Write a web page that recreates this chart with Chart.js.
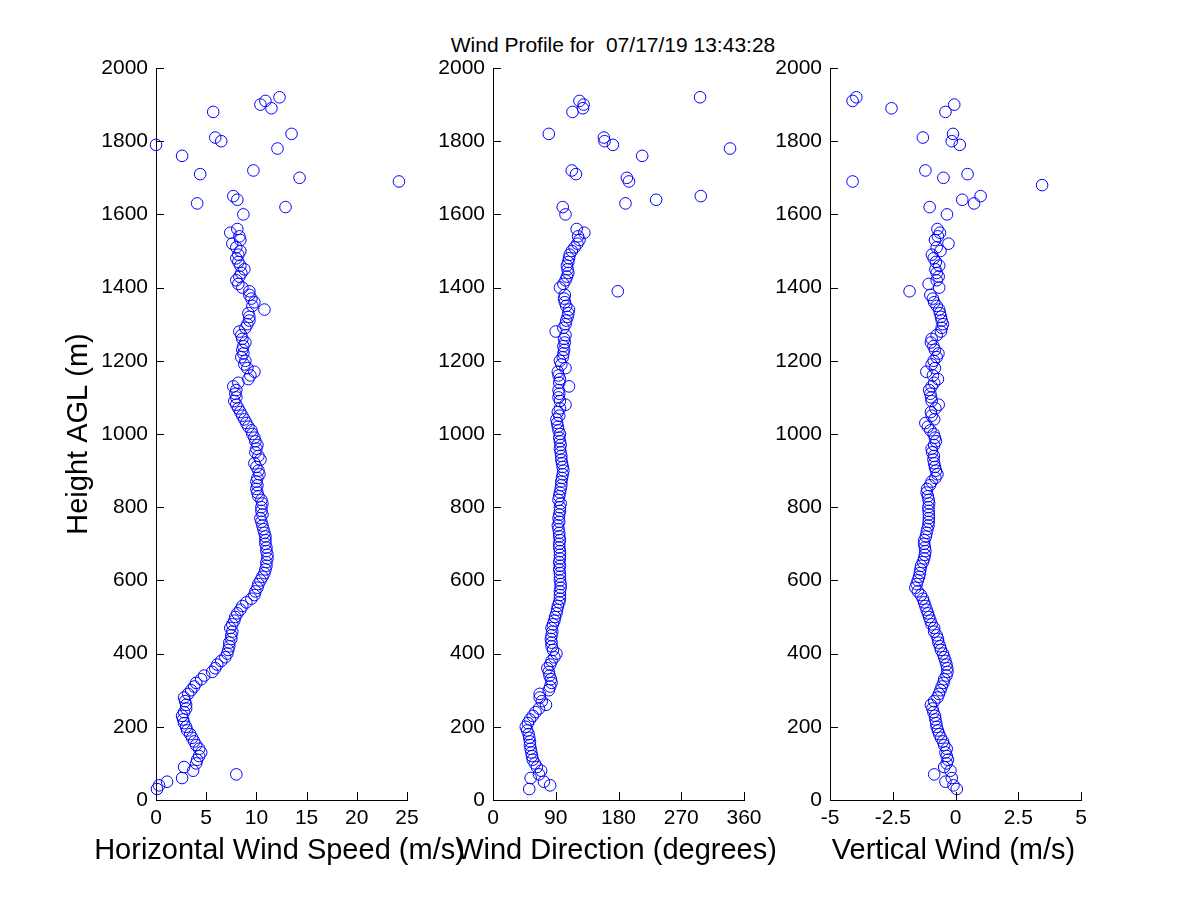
<!DOCTYPE html>
<html>
<head>
<meta charset="utf-8">
<title>Wind Profile</title>
<script src="https://cdn.jsdelivr.net/npm/chart.js@4.4.1/dist/chart.umd.min.js"></script>
<style>
  html, body { margin: 0; padding: 0; background: #fff; }
  #wrap { position: relative; width: 1200px; height: 900px; overflow: hidden; }
  #wrap canvas { position: absolute; left: 0; top: 0; }
  #title {
    position: absolute; left: 413px; top: 32px; width: 400px;
    text-align: center; font: 21px "Liberation Sans", Arial, sans-serif;
    line-height: 26px; color: #000; white-space: pre;
  }
</style>
</head>
<body>
<div id="wrap">
  <div id="title">Wind Profile for  07/17/19 13:43:28</div>
  <canvas id="speed" width="1200" height="900"></canvas>
  <canvas id="dir" width="1200" height="900"></canvas>
  <canvas id="vert" width="1200" height="900"></canvas>
</div>
<script>
// range gates (m AGL)
const heights = [
  30, 40, 50, 60, 70, 80, 90, 100, 110, 120,
  130, 140, 150, 160, 170, 180, 190, 200, 210, 220,
  230, 240, 250, 260, 270, 280, 290, 300, 310, 320,
  330, 340, 350, 360, 370, 380, 390, 400, 410, 420,
  430, 440, 450, 460, 470, 480, 490, 500, 510, 520,
  530, 540, 550, 560, 570, 580, 590, 600, 610, 620,
  630, 640, 650, 660, 670, 680, 690, 700, 710, 720,
  730, 740, 750, 760, 770, 780, 790, 800, 810, 820,
  830, 840, 850, 860, 870, 880, 890, 900, 910, 920,
  930, 940, 950, 960, 970, 980, 990, 1000, 1010, 1020,
  1030, 1040, 1050, 1060, 1070, 1080, 1090, 1100, 1110, 1120,
  1130, 1140, 1150, 1160, 1170, 1180, 1190, 1200, 1210, 1220,
  1230, 1240, 1250, 1260, 1270, 1280, 1290, 1300, 1310, 1320,
  1330, 1340, 1350, 1360, 1370, 1380, 1390, 1400, 1410, 1420,
  1430, 1440, 1450, 1460, 1470, 1480, 1490, 1500, 1510, 1520,
  1530, 1540, 1550, 1560,
  1600, 1620, 1630, 1640, 1650, 1680, 1690, 1700, 1710, 1720,
  1760, 1780, 1790, 1800, 1810, 1820, 1880, 1890, 1900, 1910, 1920
];

// horizontal wind speed (m/s)
const speed = [
  0.1, 0.3, 1.1, 2.6, 8.0, 3.7, 2.8, 4.0, 4.1, 4.3,
  4.5, 4.3, 4.0, 3.8, 3.6, 3.4, 3.1, 3.0, 2.8, 2.7,
  2.6, 2.8, 3.0, 3.0, 2.9, 2.8, 3.2, 3.5, 3.8, 4.0,
  4.5, 4.8, 5.6, 5.9, 6.1, 6.5, 6.9, 7.1, 7.2, 7.3,
  7.3, 7.5, 7.5, 7.6, 7.4, 7.6, 7.8, 7.9, 8.1, 8.4,
  8.6, 9.0, 9.5, 9.8, 9.9, 10.1, 10.2, 10.4, 10.6, 10.8,
  10.9, 11.0, 11.0, 11.1, 11.1, 11.0, 11.0, 10.9, 10.9, 10.9,
  10.8, 10.7, 10.6, 10.5, 10.4, 10.6, 10.5, 10.5, 10.6, 10.5,
  10.2, 10.1, 10.0, 10.1, 10.0, 10.1, 10.3, 10.2, 10.0, 9.8,
  10.4, 10.2, 9.9, 10.0, 10.1, 9.9, 9.8, 9.6, 9.5, 9.2,
  9.0, 8.8, 8.6, 8.4, 8.2, 8.0, 7.8, 8.0, 7.9, 8.0,
  7.7, 8.2, 9.2, 9.4, 9.8, 9.1, 8.8, 8.9, 8.5, 8.7,
  8.6, 8.7, 8.9, 8.6, 8.5, 8.3, 8.9, 9.1, 9.3, 9.3,
  9.2, 10.8, 9.6, 9.8, 9.5, 9.3, 9.3, 8.6, 8.2, 8.0,
  8.3, 8.5, 8.8, 8.4, 8.2, 8.0, 8.2, 8.4, 8.0, 7.6,
  8.4, 8.3, 7.4, 8.1,
  8.7, 12.9, 4.1, 8.1, 7.7, null, 24.2, 14.3, 4.4, 9.7,
  2.6, 12.1, 0.0, 6.5, 5.9, 13.5, 5.7, 11.5, 10.4, 10.9, 12.3
];

// wind direction (degrees)
const direction = [
  52, 82, 73, 54, 66, 69, 63, 60, 57, 56,
  55, 54, 53, 53, 52, 51, 49, 47, 50, 53,
  57, 61, 66, 76, 70, 67, 67, 80, 82, 84,
  83, 81, 80, 78, 82, 84, 88, 91, 86, 84,
  84, 83, 84, 85, 84, 86, 88, 89, 91, 92,
  93, 95, 96, 96, 96, 97, 97, 96, 96, 96,
  95, 96, 95, 96, 96, 96, 95, 95, 96, 95,
  95, 94, 93, 95, 94, 95, 96, 96, 97, 94,
  95, 96, 97, 98, 98, 99, 100, 101, 100, 99,
  98, 98, 97, 96, 97, 96, 95, 96, 94, 93,
  92, 91, 95, 93, 96, 104, 96, 94, 95, 94,
  109, 95, 96, 94, 93, 104, 98, 96, 100, 101,
  102, 101, 103, 102, 104, 90, 101, 104, 105, 107,
  108, 109, 105, 103, 102, 103, 179, 96, 101, 104,
  106, 108, 107, 106, 108, 109, 110, 113, 117, 121,
  124, 122, 131, 120,
  104, 100, 190, 234, 298, null, 195, 192, 119, 113,
  214, 340, 172, 160, 159, 80, 114, 129, 130, 124, 297
];

// vertical wind (m/s)
const vertical = [
  0.05, -0.08, -0.4, -0.15, -0.85, -0.2, -0.45, -0.35, -0.3, -0.35,
  -0.4, -0.35, -0.45, -0.5, -0.58, -0.65, -0.7, -0.75, -0.77, -0.8,
  -0.82, -0.88, -0.92, -0.98, -0.85, -0.72, -0.66, -0.6, -0.55, -0.48,
  -0.45, -0.36, -0.32, -0.33, -0.36, -0.4, -0.45, -0.5, -0.58, -0.62,
  -0.68, -0.7, -0.75, -0.85, -0.85, -0.95, -1.0, -1.05, -1.1, -1.15,
  -1.2, -1.25, -1.3, -1.38, -1.5, -1.6, -1.55, -1.5, -1.45, -1.42,
  -1.4, -1.37, -1.3, -1.25, -1.22, -1.2, -1.22, -1.25, -1.24, -1.18,
  -1.15, -1.12, -1.08, -1.07, -1.06, -1.06, -1.07, -1.08, -1.05, -1.07,
  -1.1, -1.15, -1.13, -1.02, -0.95, -0.8, -0.72, -0.78, -0.82, -0.85,
  -0.88, -0.86, -0.93, -0.95, -0.85, -0.78, -0.82, -0.87, -1.0, -1.1,
  -1.2, -0.85, -0.95, -0.98, -0.8, -0.67, -0.95, -0.97, -1.0, -1.05,
  -0.95, -0.85, -0.7, -0.9, -1.16, -0.82, -0.95, -0.87, -0.75, -0.68,
  -0.82, -0.88, -0.98, -0.95, -0.75, -0.58, -0.55, -0.5, -0.55, -0.58,
  -0.62, -0.65, -0.75, -0.85, -0.9, -1.0, -1.83, -0.65, -1.07, -0.75,
  -0.67, -0.75, -0.8, -0.65, -0.78, -0.87, -0.94, -0.6, -0.75, -0.28,
  -0.82, -0.7, -0.62, -0.72,
  -0.34, -1.03, 0.74, 0.27, 1.0, 3.45, -4.1, -0.48, 0.48, -1.2,
  null, null, 0.17, -0.15, -1.3, -0.1, -0.4, -2.55, -0.05, -4.1, -3.95
];

// tick labels
const heightTicks = [0, 200, 400, 600, 800, 1000, 1200, 1400, 1600, 1800, 2000];
const speedTicks = [0, 5, 10, 15, 20, 25];
const dirTicks = [0, 90, 180, 270, 360];
const vertTicks = [-5, -2.5, 0, 2.5, 5];

const FONT = '"Liberation Sans", Arial, Helvetica, sans-serif';
Chart.defaults.color = '#000';
Chart.defaults.font.family = FONT;

// MATLAB style: tick marks pointing into the axes
const inwardTicks = {
  id: 'inwardTicks',
  afterDatasetsDraw(chart) {
    const { ctx, chartArea, scales } = chart;
    const len = 8;
    ctx.save();
    ctx.strokeStyle = '#000';
    ctx.lineWidth = 1;
    scales.x.ticks.forEach((t, i) => {
      const p = Math.round(scales.x.getPixelForTick(i)) + 0.5;
      ctx.beginPath();
      ctx.moveTo(p, chartArea.bottom);
      ctx.lineTo(p, chartArea.bottom - len);
      ctx.stroke();
    });
    scales.y.ticks.forEach((t, i) => {
      const p = Math.round(scales.y.getPixelForTick(i)) + 0.5;
      ctx.beginPath();
      ctx.moveTo(chartArea.left, p);
      ctx.lineTo(chartArea.left + len, p);
      ctx.stroke();
    });
    ctx.restore();
  }
};

// x axis caption, allowed to run wider than the plot box
const xCaption = {
  id: 'xCaption',
  afterDraw(chart, args, opts) {
    const { ctx, chartArea, scales } = chart;
    ctx.save();
    ctx.font = '29px ' + FONT;
    ctx.fillStyle = '#000';
    ctx.textAlign = 'center';
    ctx.textBaseline = 'middle';
    ctx.fillText(opts.text, (chartArea.left + chartArea.right) / 2 - 2, scales.x.top + 51);
    ctx.restore();
  }
};

function makePanel(id, values, xMin, xMax, xTicks, caption, box) {
  const points = [];
  heights.forEach((h, i) => {
    if (values[i] !== null) points.push({ x: values[i], y: h });
  });

  return new Chart(document.getElementById(id), {
    type: 'scatter',
    plugins: [inwardTicks, xCaption],
    data: {
      datasets: [{
        data: points,
        pointStyle: 'circle',
        pointRadius: 5.8,
        pointHoverRadius: 5.8,
        borderWidth: 1,
        borderColor: '#0000ff',
        backgroundColor: 'rgba(0,0,0,0)',
        clip: false
      }]
    },
    options: {
      responsive: false,
      devicePixelRatio: 1,
      animation: false,
      events: [],
      layout: {
        padding: { left: box.left - box.yWidth, right: 1200 - box.right, top: 68, bottom: 33 }
      },
      plugins: {
        legend: { display: false },
        tooltip: { enabled: false },
        xCaption: { text: caption }
      },
      scales: {
        x: {
          type: 'linear',
          min: xMin,
          max: xMax,
          afterBuildTicks: s => { s.ticks = xTicks.map(v => ({ value: v })); },
          afterFit: s => { s.height = 67; },
          grid: { display: false, drawTicks: false },
          border: { display: true, color: '#000', width: 1 },
          ticks: { font: { size: 21 }, padding: 6, maxRotation: 0, autoSkip: false, callback: v => String(v) }
        },
        y: {
          type: 'linear',
          min: 0,
          max: 2000,
          afterBuildTicks: s => { s.ticks = heightTicks.map(v => ({ value: v })); },
          afterFit: s => { s.width = box.yWidth; },
          grid: { display: false, drawTicks: false },
          border: { display: true, color: '#000', width: 1 },
          ticks: { font: { size: 21 }, padding: 8, autoSkip: false, callback: v => String(v) },
          title: {
            display: box.yTitle,
            text: 'Height AGL (m)',
            font: { size: 29 },
            padding: 0
          }
        }
      }
    }
  });
}

makePanel('speed', speed, 0, 25, speedTicks, 'Horizontal Wind Speed (m/s)',
  { left: 156, right: 407, yWidth: 94, yTitle: true });
makePanel('dir', direction, 0, 360, dirTicks, 'Wind Direction (degrees)',
  { left: 493, right: 744, yWidth: 70, yTitle: false });
makePanel('vert', vertical, -5, 5, vertTicks, 'Vertical Wind (m/s)',
  { left: 830, right: 1081, yWidth: 70, yTitle: false });
</script>
</body>
</html>
